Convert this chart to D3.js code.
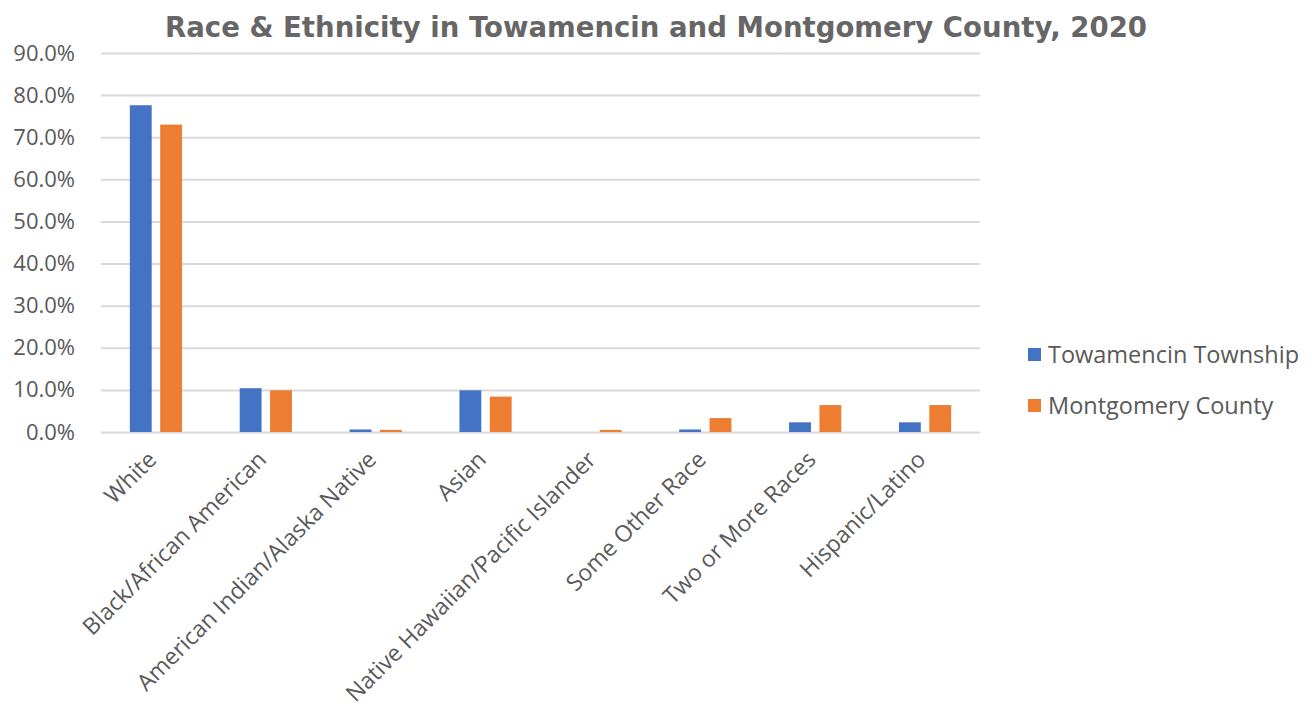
<!DOCTYPE html>
<html>
<head>
<meta charset="utf-8">
<script src="https://cdn.jsdelivr.net/npm/d3@7"></script>
<style>
  body { margin: 0; background: #fff; }
  text { font-family: "Open Sans", sans-serif; fill: #595959; }
</style>
</head>
<body>
<script>
// chart data
var categories = ["White", "Black/African American", "American Indian/Alaska Native", "Asian",
  "Native Hawaiian/Pacific Islander", "Some Other Race", "Two or More Races", "Hispanic/Latino"];
var seriesNames = ["Towamencin Township", "Montgomery County"];
var towamencin = [77.6, 10.4, 0.6, 9.9, 0.0, 0.6, 2.3, 2.3];
var montgomery = [73.0, 9.9, 0.5, 8.4, 0.5, 3.3, 6.4, 6.4];
var yTicks = [0, 10, 20, 30, 40, 50, 60, 70, 80, 90];
var colors = ["#4472C4", "#ED7D31"];

var svgWidth = 1312;
var svgHeight = 713;
var margin = {top: 53, left: 101, right: 332, bottom: 281};
var width = svgWidth - margin.left - margin.right;
var height = svgHeight - margin.top - margin.bottom;

var svg = d3.select("body").append("svg")
  .attr("width", svgWidth)
  .attr("height", svgHeight);

// title
svg.append("text")
  .attr("x", 656)
  .attr("y", 37)
  .attr("text-anchor", "middle")
  .style("font-family", "'DejaVu Sans', sans-serif")
  .style("font-weight", "bold")
  .style("font-size", "29px")
  .style("fill", "#666666")
  .attr("textLength", 982)
  .attr("lengthAdjust", "spacingAndGlyphs")
  .text("Race & Ethnicity in Towamencin and Montgomery County, 2020");

var chartGroup = svg.append("g")
  .attr("transform", `translate(${margin.left}, ${margin.top})`);

var x0 = d3.scaleBand().domain(categories).range([0, width]).paddingInner(0).paddingOuter(0);
var x1 = d3.scaleBand().domain(seriesNames).range([0, x0.bandwidth()]).paddingInner(0.28).paddingOuter(0.95);
var y = d3.scaleLinear().domain([0, 90]).range([height, 0]);

// gridlines + value labels
var leftAxis = d3.axisLeft(y).tickValues(yTicks).tickSize(-width)
  .tickFormat(d => d.toFixed(1) + "%").tickPadding(26);
var yAxis = chartGroup.append("g").call(leftAxis);
yAxis.select(".domain").remove();
yAxis.selectAll(".tick line").attr("stroke", "#d9d9d9").attr("stroke-width", 2);
yAxis.selectAll(".tick text").style("font-size", "22px").style("fill", "#595959");

// bars
var rows = categories.map((c, i) => ({cat: c, vals: [towamencin[i], montgomery[i]]}));
var groups = chartGroup.selectAll(".grp").data(rows).enter().append("g")
  .attr("transform", d => `translate(${x0(d.cat)}, 0)`);
groups.selectAll("rect")
  .data(d => d.vals.map((v, j) => ({name: seriesNames[j], v: v, j: j})))
  .enter().append("rect")
  .attr("x", d => x1(d.name))
  .attr("width", x1.bandwidth())
  .attr("y", d => y(d.v))
  .attr("height", d => height - y(d.v))
  .attr("fill", d => colors[d.j]);

// category labels, rotated
var bottomAxis = d3.axisBottom(x0).tickSize(0).tickPadding(0);
var xAxis = chartGroup.append("g").attr("transform", `translate(0, ${height})`).call(bottomAxis);
xAxis.select(".domain").remove();
xAxis.selectAll(".tick text")
  .attr("text-anchor", "end")
  .attr("y", 0).attr("dy", 0)
  .attr("transform", "translate(2, 29) rotate(-45)")
  .style("font-size", "23px")
  .style("fill", "#595959");

// legend
var legend = svg.append("g").attr("transform", "translate(1028, 0)");
var ly = [355, 406];
seriesNames.forEach(function(name, i) {
  legend.append("rect")
    .attr("x", 0).attr("y", ly[i] - 7)
    .attr("width", 13).attr("height", 13)
    .attr("fill", colors[i]);
  legend.append("text")
    .attr("x", 20).attr("y", ly[i])
    .attr("dy", "0.35em")
    .style("font-size", "23.5px")
    .text(name);
});
</script>
</body>
</html>
